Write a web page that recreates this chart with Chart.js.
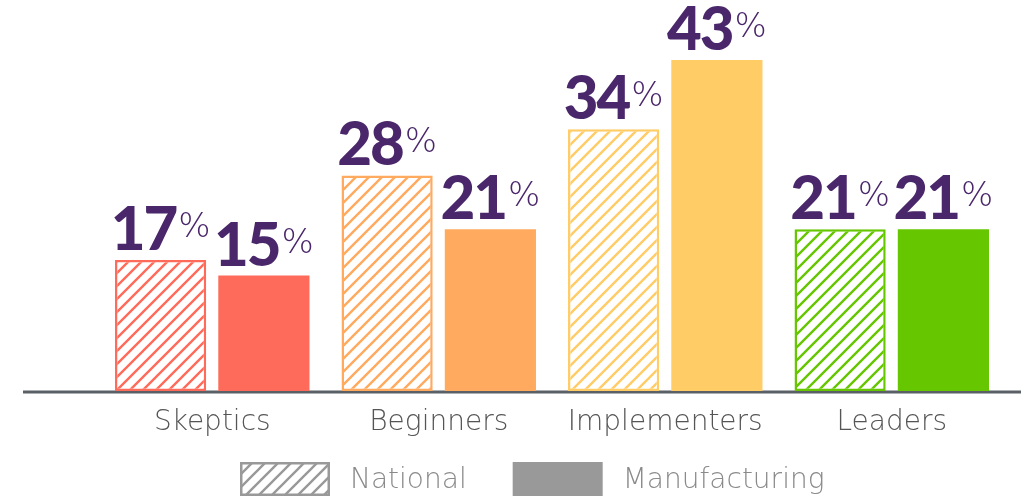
<!DOCTYPE html>
<html>
<head>
<meta charset="utf-8">
<script src="https://cdn.jsdelivr.net/npm/chart.js@4.4.1/dist/chart.umd.min.js"></script>
<style>
  html, body { margin: 0; padding: 0; background: #fff; }
  #wrap { width: 1025px; height: 499px; }
</style>
</head>
<body>
<div id="wrap"><canvas id="chart"></canvas></div>
<script>
// data
const categories = ["Skeptics", "Beginners", "Implementers", "Leaders"];
const national = [17, 28, 34, 21];
const manufacturing = [15, 21, 43, 21];
const seriesNames = ["National", "Manufacturing"];

const colors = ["#ff6b5b", "#ffaa5f", "#ffcc66", "#66c600"];
const purple = "#4a266a";
const legendGray = "#999999";
const thinFont = "'DejaVu Sans'";

// diagonal hatch used for the National bars
function hatch(color) {
  const s = 13;
  const tile = document.createElement("canvas");
  tile.width = s; tile.height = s;
  const g = tile.getContext("2d");
  g.fillStyle = "#fff";
  g.fillRect(0, 0, s, s);
  g.strokeStyle = color;
  g.lineWidth = 2.4;
  g.beginPath();
  g.moveTo(-1, s + 1); g.lineTo(s + 1, -1);
  g.moveTo(-s / 2 - 1, s / 2 + 1); g.lineTo(s / 2 + 1, -s / 2 - 1);
  g.moveTo(s / 2 - 1, s * 1.5 + 1); g.lineTo(s * 1.5 + 1, s / 2 - 1);
  g.stroke();
  return g.createPattern(tile, "repeat");
}

const baseline = {
  id: "baseline",
  beforeDatasetsDraw(chart) {
    const { ctx, chartArea } = chart;
    const y = chart.scales.y.getPixelForValue(0) + 1;
    ctx.save();
    ctx.strokeStyle = "#5b6067";
    ctx.lineWidth = 3;
    ctx.beginPath();
    ctx.moveTo(chartArea.left - 76, y);
    ctx.lineTo(chartArea.right + 16, y);
    ctx.stroke();
    ctx.restore();
  }
};

const valueLabels = {
  id: "valueLabels",
  afterDatasetsDraw(chart) {
    const ctx = chart.ctx;
    const numFont = "900 60px Lato";
    const pctFont = "200 34px " + thinFont;
    ctx.save();
    ctx.fillStyle = purple;
    ctx.textBaseline = "alphabetic";
    ctx.textAlign = "left";
    chart.data.datasets.forEach((ds, di) => {
      chart.getDatasetMeta(di).data.forEach((bar, i) => {
        const num = String(ds.data[i]);
        ctx.font = numFont;
        ctx.letterSpacing = "-2px";
        const nw = ctx.measureText(num).width;
        ctx.font = pctFont;
        ctx.letterSpacing = "0px";
        const pw = ctx.measureText("%").width;
        const x0 = bar.x - (nw + pw + 2) / 2;
        const yb = bar.y - 10;
        ctx.font = numFont;
        ctx.letterSpacing = "-2px";
        ctx.fillText(num, x0, yb);
        ctx.font = pctFont;
        ctx.letterSpacing = "0px";
        ctx.fillText("%", x0 + nw + 2, yb - 13);
      });
    });
    ctx.restore();
  }
};

const legendBoxes = {
  id: "legendBoxes",
  afterDraw(chart) {
    const ctx = chart.ctx;
    const fills = [hatch(legendGray), legendGray];
    let x = 240;
    const top = 462;
    ctx.save();
    ctx.font = "200 28px " + thinFont;
    ctx.textBaseline = "middle";
    seriesNames.forEach((name, i) => {
      ctx.fillStyle = fills[i];
      ctx.fillRect(x, top, 90, 34);
      if (i === 0) {
        ctx.strokeStyle = legendGray;
        ctx.lineWidth = 2.5;
        ctx.strokeRect(x + 1.25, top + 1.25, 87.5, 31.5);
      }
      ctx.fillStyle = "#8a8a8a";
      ctx.fillText(name, x + 110, top + 19);
      x += 110 + ctx.measureText(name).width + 46;
    });
    ctx.restore();
  }
};

new Chart(document.getElementById("chart"), {
  type: "bar",
  data: {
    labels: categories,
    datasets: [
      {
        label: seriesNames[0],
        data: national,
        backgroundColor: colors.map(hatch),
        borderColor: colors,
        borderWidth: 2.5,
        borderSkipped: false
      },
      {
        label: seriesNames[1],
        data: manufacturing,
        backgroundColor: colors,
        borderWidth: 0
      }
    ]
  },
  options: {
    responsive: true,
    maintainAspectRatio: false,
    animation: false,
    categoryPercentage: 0.912,
    barPercentage: 0.883,
    layout: { padding: { left: 99, right: 20, top: 6, bottom: 0 } },
    plugins: {
      legend: { display: false },
      tooltip: { enabled: false }
    },
    scales: {
      x: {
        grid: { display: false, drawTicks: false },
        border: { display: false },
        ticks: {
          padding: 15,
          color: "#555",
          font: { family: thinFont, size: 28, weight: 200 }
        },
        afterFit(scale) { scale.height = 108; }
      },
      y: {
        display: false,
        min: 0,
        max: 50
      }
    }
  },
  plugins: [baseline, valueLabels, legendBoxes]
});
</script>
</body>
</html>
